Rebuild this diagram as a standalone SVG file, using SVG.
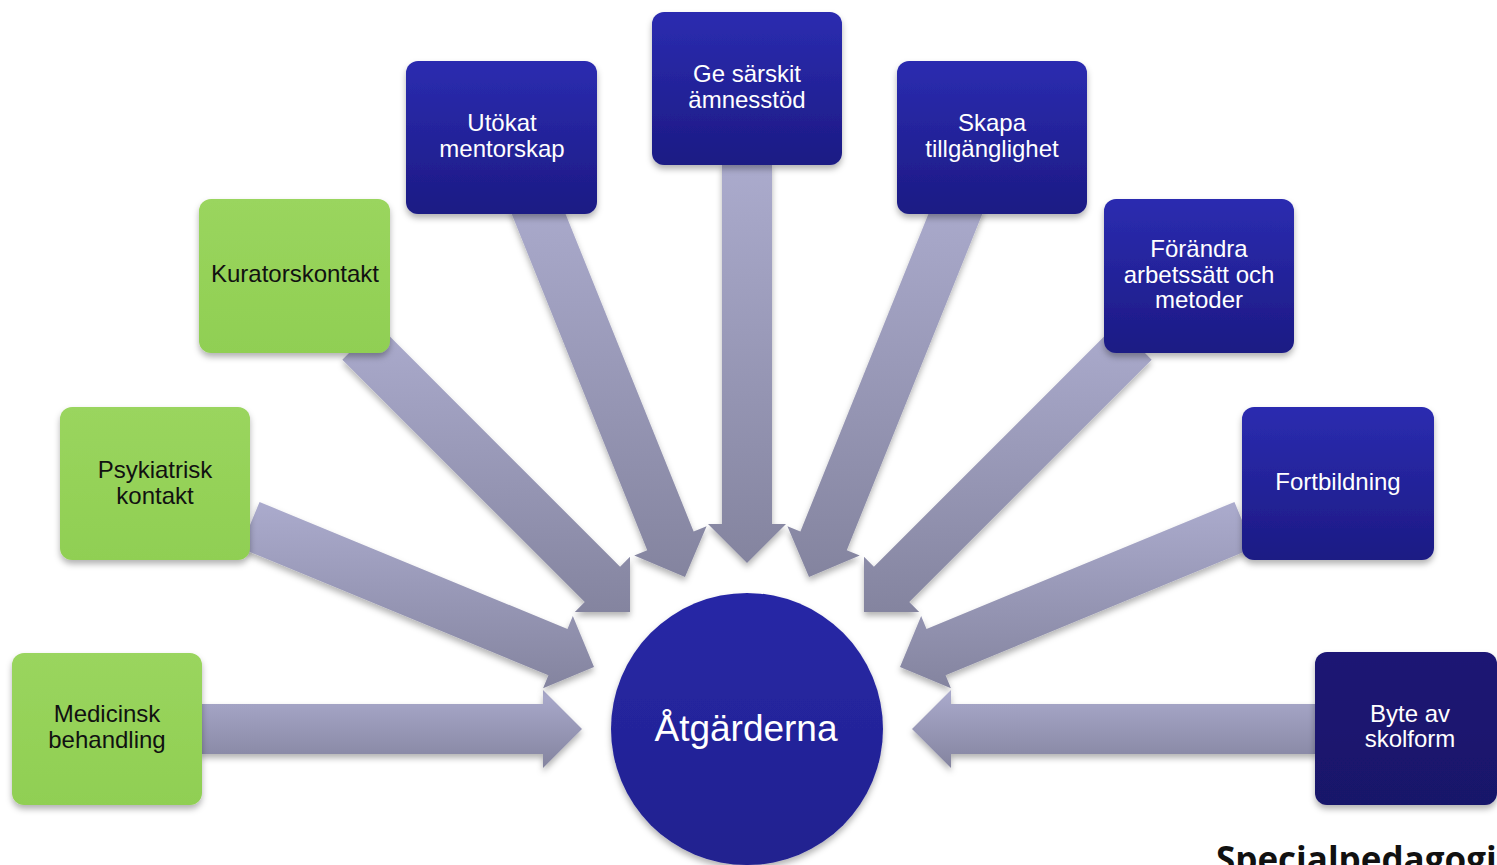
<svg xmlns="http://www.w3.org/2000/svg" width="1497" height="865" viewBox="0 0 1497 865">
<defs>
<linearGradient id="arr" x1="0" y1="0" x2="0" y2="1">
<stop offset="0" stop-color="#ababcd"/>
<stop offset="1" stop-color="#84849f"/>
</linearGradient>
<linearGradient id="blue" x1="0" y1="0" x2="0" y2="1">
<stop offset="0" stop-color="#2b2cb0"/>
<stop offset="1" stop-color="#1c1a84"/>
</linearGradient>
<linearGradient id="navy" x1="0" y1="0" x2="0" y2="1">
<stop offset="0" stop-color="#1c1674"/>
<stop offset="1" stop-color="#19136a"/>
</linearGradient>
<linearGradient id="green" x1="0" y1="0" x2="0" y2="1">
<stop offset="0" stop-color="#9ad55e"/>
<stop offset="1" stop-color="#90cf53"/>
</linearGradient>
<linearGradient id="circ" x1="0" y1="0" x2="0" y2="1">
<stop offset="0" stop-color="#2828a6"/>
<stop offset="1" stop-color="#20208f"/>
</linearGradient>
<filter id="sh" x="-20%" y="-20%" width="140%" height="150%">
<feDropShadow dx="0" dy="4" stdDeviation="3" flood-color="#000" flood-opacity="0.3"/>
</filter>
</defs>
<style>
.a{fill:url(#arr);filter:url(#sh)}
.b{fill:url(#blue);filter:url(#sh)}
.g{fill:url(#green);filter:url(#sh)}
.tw{font-family:"Liberation Sans",Arial,sans-serif;font-size:24px;fill:#ffffff;text-anchor:middle}
.tb{font-family:"Liberation Sans",Arial,sans-serif;font-size:24px;fill:#111111;text-anchor:middle}
</style>
<rect width="1497" height="865" fill="#ffffff"/>
<g id="connectors">
<polygon class="a" points="200,704 543,704 543,690 582,729 543,768 543,754 200,754"/>
<polygon class="a" points="240.46,548.11 548.41,675.23 543.07,688.17 594,667 572.83,616.07 567.49,629.01 259.54,501.89"/>
<polygon class="a" points="342.32,359.68 584.74,602.10 574.84,612 630,612 630,556.84 620.10,566.74 377.68,324.32"/>
<polygon class="a" points="509.81,209.35 647.23,550.18 634.25,555.41 685,577 706.59,526.25 693.61,531.48 556.19,190.65"/>
<polygon class="a" points="722,163 722,524 708,524 747,563 786,524 772,524 772,163"/>
<polygon class="a" points="984.19,209.35 846.77,550.18 859.75,555.41 809,577 787.41,526.25 800.39,531.48 937.81,190.65"/>
<polygon class="a" points="1151.68,359.68 909.26,602.10 919.16,612 864,612 864,556.84 873.90,566.74 1116.32,324.32"/>
<polygon class="a" points="1253.54,548.11 945.59,675.23 950.93,688.17 900,667 921.17,616.07 926.51,629.01 1234.46,501.89"/>
<polygon class="a" points="1317,704 951,704 951,690 912,729 951,768 951,754 1317,754"/>
</g>
<g id="center">
<circle cx="747" cy="729" r="136" fill="url(#circ)" filter="url(#sh)"/>
<text x="746" y="741" font-family="Liberation Sans,Arial,sans-serif" font-size="37" fill="#ffffff" text-anchor="middle">Åtgärderna</text>
</g>
<g id="n-medicinsk">
<rect class="g" x="12" y="653" width="190" height="152" rx="12"/>
<text class="tb" x="107" y="722">Medicinsk</text>
<text class="tb" x="107" y="748">behandling</text>
</g>
<g id="n-psykiatrisk">
<rect class="g" x="60" y="407" width="190" height="153" rx="12"/>
<text class="tb" x="155" y="478">Psykiatrisk</text>
<text class="tb" x="155" y="504">kontakt</text>
</g>
<g id="n-kurator">
<rect class="g" x="199" y="199" width="191" height="154" rx="12"/>
<text class="tb" x="295" y="282">Kuratorskontakt</text>
</g>
<g id="n-mentor">
<rect class="b" x="406" y="61" width="191" height="153" rx="12"/>
<text class="tw" x="502" y="131">Utökat</text>
<text class="tw" x="502" y="157">mentorskap</text>
</g>
<g id="n-amnesstod">
<rect class="b" x="652" y="12" width="190" height="153" rx="12"/>
<text class="tw" x="747" y="82">Ge särskit</text>
<text class="tw" x="747" y="108">ämnesstöd</text>
</g>
<g id="n-tillganglighet">
<rect class="b" x="897" y="61" width="190" height="153" rx="12"/>
<text class="tw" x="992" y="131">Skapa</text>
<text class="tw" x="992" y="157">tillgänglighet</text>
</g>
<g id="n-forandra">
<rect class="b" x="1104" y="199" width="190" height="154" rx="12"/>
<text class="tw" x="1199" y="257">Förändra</text>
<text class="tw" x="1199" y="283">arbetssätt och</text>
<text class="tw" x="1199" y="308">metoder</text>
</g>
<g id="n-fortbildning">
<rect class="b" x="1242" y="407" width="192" height="153" rx="12"/>
<text class="tw" x="1338" y="490">Fortbildning</text>
</g>
<g id="n-byte">
<rect x="1315" y="652" width="182" height="153" rx="12" fill="url(#navy)" filter="url(#sh)"/>
<text class="tw" x="1410" y="722">Byte av</text>
<text class="tw" x="1410" y="747">skolform</text>
</g>
<text x="1216" y="872" font-family="Open Sans,Noto Sans,sans-serif" font-weight="bold" font-size="35" fill="#111111">Specialpedagogi</text>
</svg>
